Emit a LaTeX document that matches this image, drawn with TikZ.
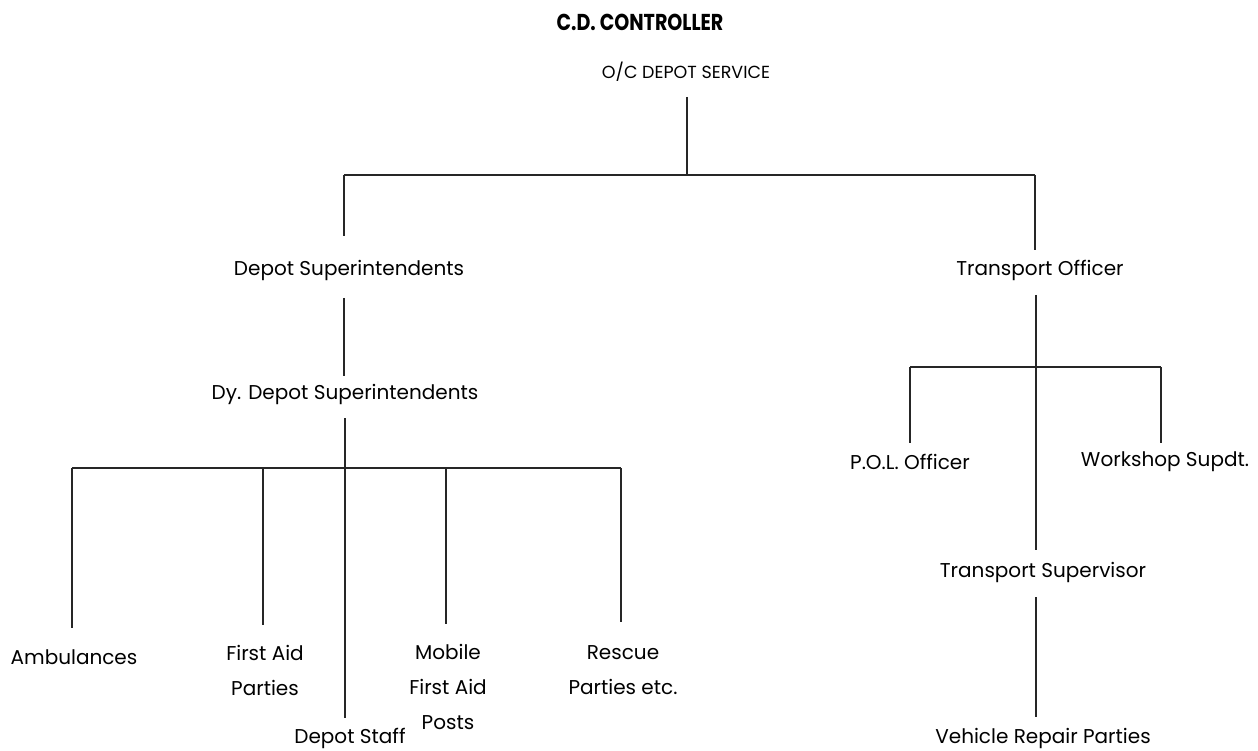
\documentclass[tikz,border=0pt]{standalone}
\usepackage{fontspec}
\setmainfont{Poppins}
\begin{document}
\begin{tikzpicture}[x=1pt,y=-1pt,
  lbl/.style={font=\fontsize{20}{35}\selectfont, align=center, inner sep=0pt},
  conn/.style={line width=1.6pt, black!85}]
\useasboundingbox (0,0) rectangle (1258,751);
% labels
\node[lbl, font=\fontsize{23}{26}\selectfont\bfseries, xscale=0.83] (cdc) at (640,22) {C.D. CONTROLLER};
\node[lbl, font=\fontsize{17.5}{20}\selectfont] (ocds) at (686,72) {O/C DEPOT SERVICE};
\node[lbl] (ds) at (349,270) {Depot Superintendents};
\node[lbl] (dds) at (345,394) {Dy. Depot Superintendents};
\node[lbl] (amb) at (74,657) {Ambulances};
\node[lbl] (fap) at (265,670) {First Aid\\Parties};
\node[lbl] (mfa) at (448,687) {Mobile\\First Aid\\Posts};
\node[lbl] (rpe) at (623,670) {Rescue\\Parties etc.};
\node[lbl] (dst) at (350,738) {Depot Staff};
\node[lbl] (to) at (1040,270) {Transport Officer};
\node[lbl] (pol) at (910,462) {P.O.L. Officer};
\node[lbl] (wks) at (1165,462) {Workshop Supdt.};
\node[lbl] (tsv) at (1043,572) {Transport Supervisor};
\node[lbl] (vrp) at (1043,738) {Vehicle Repair Parties};
% junction coordinates
\coordinate (o1) at (687,97);
\coordinate (j0) at (687,175);
\coordinate (jl) at (344,175);
\coordinate (jr) at (1035,175);
\coordinate (jdl) at (344,236);
\coordinate (jdr) at (1035,250);
\coordinate (j1t) at (344,298);
\coordinate (j1b) at (344,376);
\coordinate (j2t) at (345,418);
\coordinate (j2b) at (345,718);
\coordinate (ha) at (72,468);
\coordinate (hr) at (621,468);
\coordinate (hf) at (263,468);
\coordinate (hm) at (446,468);
\coordinate (ea) at (72,628);
\coordinate (ef) at (263,625);
\coordinate (em) at (446,624);
\coordinate (er) at (621,622);
\coordinate (t1) at (1036,295);
\coordinate (t3) at (1036,550);
\coordinate (tp) at (910,367);
\coordinate (tw) at (1161,367);
\coordinate (tpe) at (910,443);
\coordinate (twe) at (1161,443);
\coordinate (v1) at (1036,597);
\coordinate (v2) at (1036,717);
% connectors
\draw[conn] (o1) -- (j0);
\draw[conn] (jl) -- (jr);
\draw[conn] (jl) -- (jdl);
\draw[conn] (jr) -- (jdr);
\draw[conn] (j1t) -- (j1b);
\draw[conn] (j2t) -- (j2b);
\draw[conn] (ha) -- (hr);
\draw[conn] (ha) -- (ea);
\draw[conn] (hf) -- (ef);
\draw[conn] (hm) -- (em);
\draw[conn] (hr) -- (er);
\draw[conn] (t1) -- (t3);
\draw[conn] (tp) -- (tw);
\draw[conn] (tp) -- (tpe);
\draw[conn] (tw) -- (twe);
\draw[conn] (v1) -- (v2);
\end{tikzpicture}
\end{document}
